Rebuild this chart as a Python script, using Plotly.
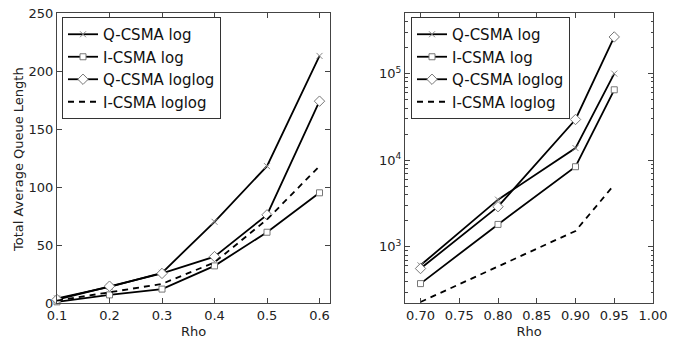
import plotly.graph_objects as go

names = ["Q-CSMA log", "I-CSMA log", "Q-CSMA loglog", "I-CSMA loglog"]

rho_left = [0.1, 0.2, 0.3, 0.4, 0.5, 0.6]
q_log_left = [4, 14, 26, 70, 118, 213]
i_log_left = [1, 7, 12, 32, 61, 95]
q_loglog_left = [3, 14.5, 25.5, 40, 76, 174]
i_loglog_left = [2, 9, 16.5, 35, 72, 118]

rho_right = [0.70, 0.80, 0.90, 0.95]
q_log_right = [610, 3500, 13800, 100000]
i_log_right = [375, 1810, 8400, 65000]
q_loglog_right = [560, 2900, 29500, 265000]
i_loglog_right = [230, 590, 1520, 5200]

left_ticks = [0, 50, 100, 150, 200, 250]
right_ticks = [1000, 10000, 100000]
right_ticktext = ["10<sup>3</sup>", "10<sup>4</sup>", "10<sup>5</sup>"]
y_title = "Total Average Queue Length"

styles = [
    dict(mode="lines+markers", line=dict(color="black", width=1.8),
         marker=dict(symbol="x-thin", size=6, line=dict(color="#888", width=1), color="#888")),
    dict(mode="lines+markers", line=dict(color="black", width=1.8),
         marker=dict(symbol="square", size=6, color="white", line=dict(color="#777", width=1))),
    dict(mode="lines+markers", line=dict(color="black", width=1.8),
         marker=dict(symbol="diamond", size=8, color="white", line=dict(color="#777", width=1))),
    dict(mode="lines", line=dict(color="black", width=1.8, dash="6px,5px")),
]

fig = go.Figure()
left_series = [q_log_left, i_log_left, q_loglog_left, i_loglog_left]
right_series = [q_log_right, i_log_right, q_loglog_right, i_loglog_right]
for n, ys, st in zip(names, left_series, styles):
    fig.add_trace(go.Scatter(x=rho_left, y=ys, name=n, xaxis="x", yaxis="y",
                             legend="legend", cliponaxis=False, **st))
for n, ys, st in zip(names, right_series, styles):
    fig.add_trace(go.Scatter(x=rho_right, y=ys, name=n, xaxis="x2", yaxis="y2",
                             legend="legend2", **st))

font = dict(family="DejaVu Sans", size=13, color="#222")
axis_common = dict(showline=True, linecolor="#444", linewidth=1, mirror="ticks",
                   ticks="inside", ticklen=5, tickcolor="#444", showgrid=False,
                   zeroline=False, tickfont=font, automargin=False)

minor_vals = [m * 10 ** k for k in range(2, 6) for m in range(2, 10)]

L, R, T, B = 57, 653, 13, 303
W = R - L
H = B - T
legend_style = dict(xref="container", yref="container", xanchor="left", yanchor="top",
                    bgcolor="white", bordercolor="#333", borderwidth=1,
                    font=dict(family="DejaVu Sans", size=15, color="#111"),
                    itemwidth=30, tracegroupgap=0)
fig.update_layout(
    width=676, height=339,
    margin=dict(l=L, r=676 - R, t=T, b=339 - B, autoexpand=False),
    plot_bgcolor="white", paper_bgcolor="white",
    font=font,
    xaxis=dict(domain=[0, (330 - L) / W], range=[0.1, 0.62], tickvals=rho_left,
               tickformat=".1f", title=dict(text="Rho", font=font),
               anchor="y", **axis_common),
    yaxis=dict(domain=[0, 1], range=[0, 250], tickvals=left_ticks,
               anchor="x", **axis_common),
    xaxis2=dict(domain=[(405 - L) / W, 1], range=[0.68, 1.0], tick0=0.7, dtick=0.05,
                tickformat=".2f", title=dict(text="Rho", font=font),
                anchor="y2", **axis_common),
    yaxis2=dict(domain=[0, 1], type="log", range=[2.35, 5.7],
                tickvals=right_ticks, ticktext=right_ticktext, anchor="x2",
                minor=dict(ticks="inside", ticklen=2.5, tickcolor="#444", tickvals=minor_vals),
                **axis_common),
    annotations=[dict(text=y_title, textangle=-90, showarrow=False,
                      xref="paper", yref="paper", x=(18 - L) / W, y=(B - 160) / H,
                      xanchor="center", yanchor="middle", font=font)],
    legend=dict(x=62 / 676, y=1 - 17 / 339, **legend_style),
    legend2=dict(x=411 / 676, y=1 - 17 / 339, **legend_style),
)

fig.write_html("out.html", config={"displayModeBar": False},
               post_script="document.body.style.margin='0';document.body.style.padding='0';")
